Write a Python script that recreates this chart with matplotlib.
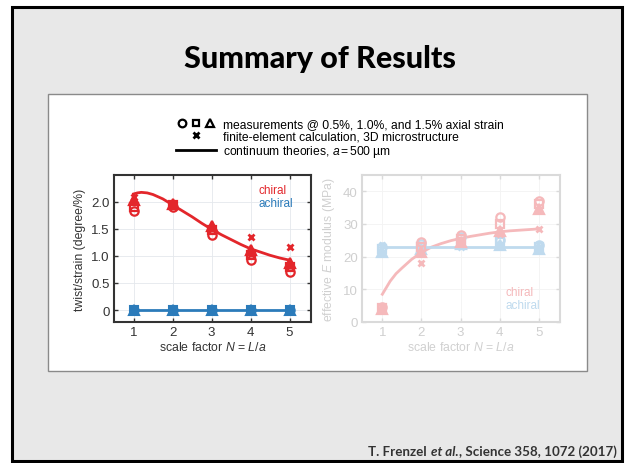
import matplotlib
matplotlib.use('Agg')
import matplotlib.pyplot as plt
from matplotlib.patches import Rectangle
from matplotlib.lines import Line2D
from matplotlib.legend_handler import HandlerTuple

plt.rcParams['font.family'] = ['Liberation Sans', 'DejaVu Sans']
plt.rcParams['mathtext.fontset'] = 'custom'
plt.rcParams['mathtext.rm'] = 'Liberation Sans'
plt.rcParams['mathtext.it'] = 'Liberation Sans:italic'

# scale factor N = L/a
N = [1, 2, 3, 4, 5]

# twist/strain (degree/%), chiral: measurements at 0.5 %, 1.0 %, 1.5 %
tw_chiral_05 = [1.82, 1.90, 1.38, 0.92, 0.70]
tw_chiral_10 = [1.90, 1.93, 1.47, 1.02, 0.80]
tw_chiral_15 = [2.02, 1.95, 1.55, 1.10, 0.86]
tw_chiral_fe = [2.08, 1.95, 1.52, 1.35, 1.17]
tw_achiral = [0, 0, 0, 0, 0]
N_curve = [1.0, 1.1, 1.2, 1.35, 1.5, 1.75, 2.0, 2.25, 2.5, 2.75, 3.0, 3.25, 3.5, 3.75, 4.0, 4.25, 4.5, 4.75, 5.0]
tw_chiral_curve = [2.14, 2.16, 2.17, 2.16, 2.13, 2.05, 1.94, 1.83, 1.72, 1.60, 1.49, 1.39, 1.30, 1.21, 1.13, 1.07, 1.01, 0.96, 0.92]
tw_achiral_curve = [0, 0]

# effective E modulus (MPa)
E_chiral_05 = [4.5, 24.5, 26.5, 32.0, 37.0]
E_chiral_10 = [4.2, 23.0, 25.5, 30.0, 36.0]
E_chiral_15 = [4.0, 21.5, 24.5, 28.0, 34.5]
E_chiral_fe = [4.5, 18.0, 25.0, 27.0, 28.5]
E_chiral_curve = [8.5, 10.5, 12.5, 14.8, 16.5, 19.2, 21.3, 22.9, 24.0, 24.9, 25.6, 26.2, 26.7, 27.2, 27.6, 27.9, 28.1, 28.3, 28.5]
E_achiral_05 = [23.0, 24.0, 26.0, 25.0, 23.5]
E_achiral_10 = [22.5, 23.0, 24.5, 24.5, 23.0]
E_achiral_15 = [21.5, 22.5, 24.0, 23.5, 22.5]
E_achiral_fe = [23.5, 23.0, 23.0, 23.5, 23.0]
E_achiral_curve = [23, 23]
N_ends = [1, 5]

W, H = 626, 464
fig = plt.figure(figsize=(W / 100, H / 100), dpi=100)
fig.patch.set_facecolor('white')

# slide background and white figure panel
fig.add_artist(Rectangle((12 / W, 1 - 462 / H), 610 / W, 454 / H, transform=fig.transFigure,
                         facecolor='#e8e8e8', edgecolor='black', lw=2.2, zorder=-3))
fig.add_artist(Rectangle((48 / W, 1 - 372 / H), 539 / W, 277 / H, transform=fig.transFigure,
                         facecolor='white', edgecolor='#8a8a8a', lw=1, zorder=-2))

fig.text(320 / W, 1 - 59 / H, 'Summary of Results', ha='center', va='center',
         fontsize=22, fontweight='black', family=['Lato', 'DejaVu Sans'])

# citation, pieced together for the italic part
r = fig.canvas.get_renderer()
cx, cy = 617 / W, 1 - 456 / H
cite_kw = dict(fontsize=9.6, fontweight='bold', va='baseline', ha='right', color='#333333',
               family=['Lato', 'DejaVu Sans'])
t3 = fig.text(cx, cy, ', Science 358, 1072 (2017)', **cite_kw)
x2 = fig.transFigure.inverted().transform(t3.get_window_extent(r))[0][0]
t2 = fig.text(x2, cy, 'et al.', style='italic', **cite_kw)
x1 = fig.transFigure.inverted().transform(t2.get_window_extent(r))[0][0]
fig.text(x1 - 1.5 / W, cy, 'T. Frenzel ', **cite_kw)

RED, BLUE = '#e3262b', '#2b7bba'
LRED, LBLUE = '#f5b9bb', '#bfdaee'


def draw_panel(ax, series, frame, tcol, gridc):
    for (x, y, m, c, ms, mew, fc) in series:
        ax.plot(x, y, ls='none', marker=m, color=c, ms=ms, mew=mew, mfc=fc, zorder=3)
    for s in ax.spines.values():
        s.set_color(frame)
        s.set_linewidth(1.5)
    ax.tick_params(direction='in', top=True, right=True, length=3, width=1, color=frame,
                   labelsize=9.5, labelcolor=tcol, pad=3)
    ax.set_xticks(N)
    ax.grid(color=gridc, lw=0.6)
    ax.set_axisbelow(True)


# left: twist/strain
ax1 = fig.add_axes([114 / W, 1 - 323 / H, 197 / W, 147 / H])
ax1.plot(N_curve, tw_chiral_curve, color=RED, lw=2, zorder=2)
ax1.plot(N_ends, tw_achiral_curve, color=BLUE, lw=2, zorder=2)
draw_panel(ax1, [
    (N, tw_achiral, 'o', BLUE, 6, 1.5, BLUE),
    (N, tw_achiral, 's', BLUE, 5.5, 1.5, BLUE),
    (N, tw_achiral, '^', BLUE, 6.5, 1.5, BLUE),
    (N, tw_achiral, 'x', BLUE, 4.5, 2, BLUE),
    (N, tw_chiral_05, 'o', RED, 6, 1.6, 'none'),
    (N, tw_chiral_10, 's', RED, 5.5, 1.6, 'none'),
    (N, tw_chiral_15, '^', RED, 6.5, 1.6, RED),
    (N, tw_chiral_fe, 'x', RED, 4.5, 2, RED),
], '#333333', '#333333', '#e4e8ec')
ax1.set_xlim(0.5, 5.55)
ax1.set_ylim(-0.22, 2.49)
ax1.set_yticks([0, 0.5, 1.0, 1.5, 2.0])
ax1.set_yticklabels(['0', '0.5', '1.0', '1.5', '2.0'])
ax1.set_ylabel('twist/strain (degree/%)', fontsize=8.8, color='#333333', labelpad=4)
ax1.set_xlabel(r'scale factor $N$ = $L/a$', fontsize=8.8, color='#333333', labelpad=1)
ax1.text(0.731, 0.898, 'chiral', transform=ax1.transAxes, color=RED, fontsize=8.5, va='center')
ax1.text(0.731, 0.81, 'achiral', transform=ax1.transAxes, color=BLUE, fontsize=8.5, va='center')

# right: effective modulus (faded)
ax2 = fig.add_axes([362 / W, 1 - 323 / H, 198 / W, 147 / H])
ax2.plot(N_curve, E_chiral_curve, color=LRED, lw=2, zorder=2)
ax2.plot(N_ends, E_achiral_curve, color=LBLUE, lw=2, zorder=2)
draw_panel(ax2, [
    (N, E_achiral_05, 'o', LBLUE, 6, 1.6, 'none'),
    (N, E_achiral_10, 's', LBLUE, 5.5, 1.6, 'none'),
    (N, E_achiral_15, '^', LBLUE, 6.5, 1.6, LBLUE),
    (N, E_achiral_fe, 'x', LBLUE, 4.5, 2, LBLUE),
    (N, E_chiral_05, 'o', LRED, 6, 1.6, 'none'),
    (N, E_chiral_10, 's', LRED, 5.5, 1.6, 'none'),
    (N, E_chiral_15, '^', LRED, 6.5, 1.6, LRED),
    (N, E_chiral_fe, 'x', LRED, 4.5, 2, LRED),
], '#dadada', '#cfcfcf', '#f3f3f3')
ax2.set_xlim(0.48, 5.54)
ax2.set_ylim(0, 45)
ax2.set_yticks([0, 10, 20, 30, 40])
ax2.set_ylabel(r'effective $E$ modulus (MPa)', fontsize=8.8, color='#d0d0d0', labelpad=4)
ax2.set_xlabel(r'scale factor $N$ = $L/a$', fontsize=8.8, color='#d0d0d0', labelpad=1)
ax2.text(0.727, 0.204, 'chiral', transform=ax2.transAxes, color=LRED, fontsize=8.5, va='center')
ax2.text(0.727, 0.116, 'achiral', transform=ax2.transAxes, color=LBLUE, fontsize=8.5, va='center')

# legend on top
h_meas = (Line2D([], [], ls='none', marker='o', color='k', mfc='none', ms=5.5, mew=1.6),
          Line2D([], [], ls='none', marker='s', color='k', mfc='none', ms=5, mew=1.6),
          Line2D([], [], ls='none', marker='^', color='k', mfc='none', ms=6, mew=1.6))
h_fe = Line2D([], [], ls='none', marker='x', color='k', ms=4.5, mew=2)
h_line = Line2D([], [], color='k', lw=2)
fig.legend([h_meas, h_fe, h_line],
           ['measurements @ 0.5%, 1.0%, and 1.5% axial strain',
            'finite-element calculation, 3D microstructure',
            r'continuum theories, $a$$\,$=$\,$500 µm'],
           handler_map={tuple: HandlerTuple(ndivide=None, pad=0.2)},
           loc='upper left', bbox_to_anchor=(176 / W, 1 - 119 / H), frameon=False,
           fontsize=8.7, handlelength=3.3, handletextpad=0.55, labelspacing=0.05,
           borderpad=0, borderaxespad=0)

fig.savefig('out.png', dpi=100)
